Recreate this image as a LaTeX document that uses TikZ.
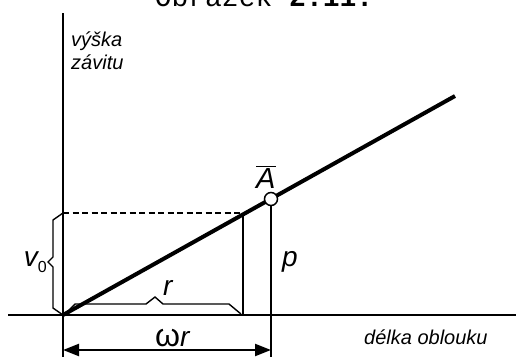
\documentclass[tikz,border=0pt]{standalone}
\usepackage{fontspec}
\setmainfont{Liberation Sans}
\newfontfamily\titlefont{Liberation Mono}
\usetikzlibrary{arrows.meta}
\tikzset{
  axisline/.style={line width=2.4pt},
  mainline/.style={line width=4pt},
  thinline/.style={line width=2.4pt},
  bracepath/.style={line width=1.4pt, line join=miter},
  dashline/.style={line width=2.6pt, dash pattern=on 6pt off 3.5pt},
  lbl/.style={inner sep=0pt, font=\fontsize{20}{22.5}\selectfont\itshape, align=left},
  biglbl/.style={inner sep=0pt, font=\fontsize{28}{30}\selectfont\itshape},
  dimarrow/.style={line width=2.2pt, {Triangle[length=16pt,width=12pt]}-{Triangle[length=16pt,width=12pt]}},
}
\begin{document}
\begin{tikzpicture}[x=1pt,y=-1pt]
\useasboundingbox (0,0) rectangle (516,357);
% title (cut off at top)
\node[anchor=base, inner sep=0pt, font=\fontsize{28}{30}\selectfont\titlefont] (title) at (264,6) {Obrázek \textbf{2.11.}};
% coordinates
\coordinate (ytop) at (63,13);
\coordinate (ybot) at (63,357);
\coordinate (xl) at (8,315);
\coordinate (xr) at (516,315);
\coordinate (O) at (63,315);
\coordinate (E) at (455,96);
\coordinate (V) at (243,213);
\coordinate (Vb) at (243,315);
\coordinate (Vl) at (63,213);
\coordinate (pb) at (271,357);
\coordinate (a1) at (63,350);
\coordinate (a2) at (271,350);
% axes
\draw[axisline] (ytop) -- (ybot);
\draw[axisline] (xl) -- (xr);
% dashed and verticals
\draw[dashline] (Vl) -- (V);
\draw[thinline] (V) -- (Vb);
% main slanted line
\draw[mainline] (O) -- (E);
% point A
\node[circle, draw, fill=white, minimum size=13pt, inner sep=0pt, line width=1.5pt] (Apt) at (271,199) {};
\draw[thinline] (Apt.south) -- (pb);
% braces
\draw[bracepath] (63,213) -- (53,220) -- (53,257) -- (48,262) -- (53,267) -- (53,308) -- (63,315);
\draw[bracepath] (65,314) -- (75,304) -- (146,304) -- (155,297) -- (163,304) -- (229,304) -- (241,314);
% dimension arrow
\draw[dimarrow] (a1) -- (a2);
% labels
\node[lbl, anchor=base west] (yl) at (71,69) {výška\\závitu};
\node[lbl, anchor=base west] (xlab) at (364,344) {délka oblouku};
\node[biglbl, anchor=base west] (plab) at (282,266) {p};
\node[biglbl, anchor=base west] (Alab) at (256,188) {$\overline{\hbox{\fontsize{29}{30}\selectfont\itshape A}}$};
\node[biglbl, anchor=base west] (rlab) at (163,295) {r};
\node[biglbl, anchor=base west] (wrlab) at (155,346) {{\upshape\fontsize{32}{32}\selectfont ω}r};
\node[biglbl, anchor=base east] (vlab) at (47,266) {v\raisebox{-6pt}{\fontsize{16}{16}\selectfont\upshape 0}};
\end{tikzpicture}
\end{document}
